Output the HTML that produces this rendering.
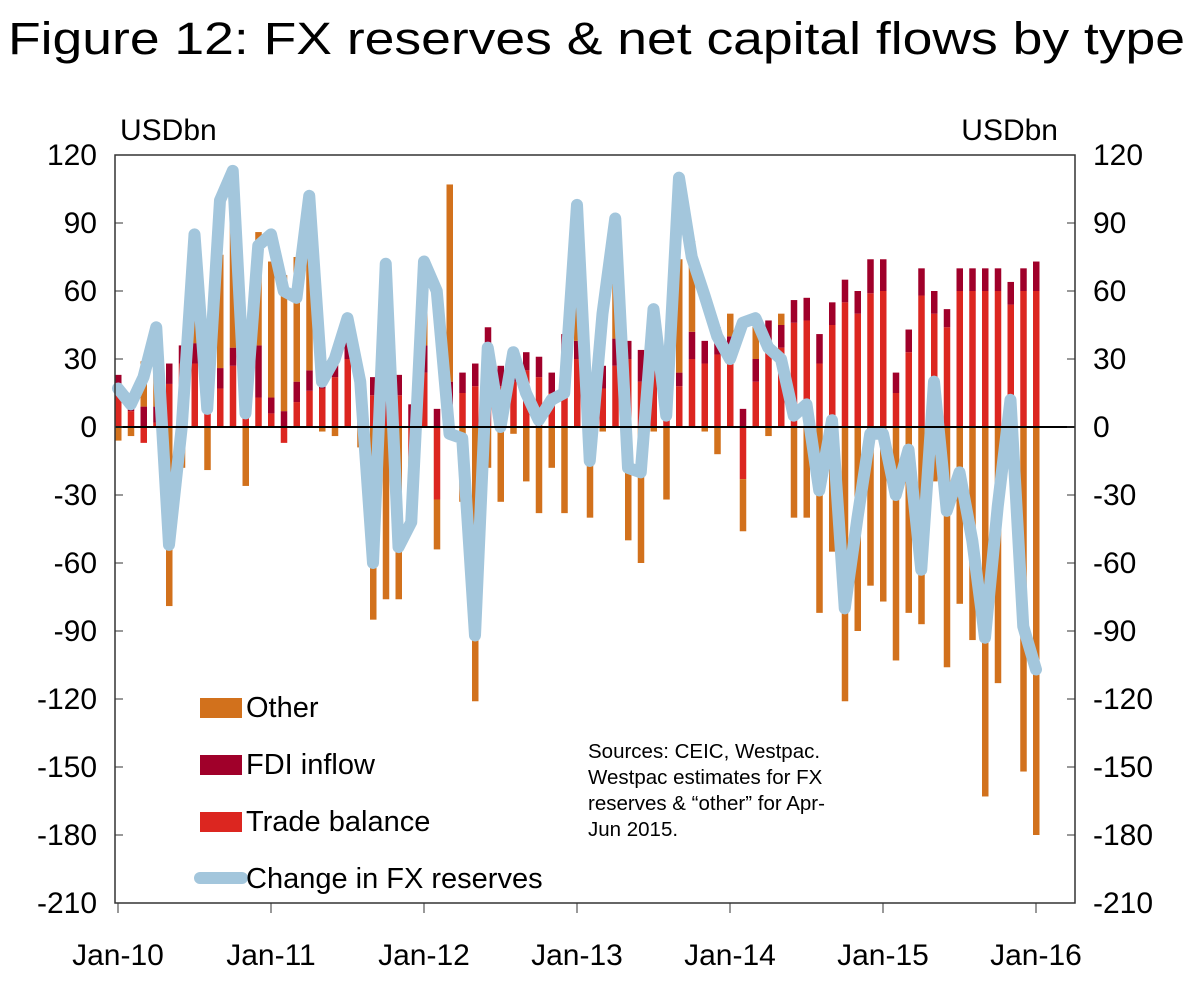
<!DOCTYPE html>
<html><head><meta charset="utf-8"><style>
body{margin:0;background:#fff;font-family:"Liberation Sans",sans-serif;}
</style></head><body>
<svg id="c" width="1197" height="979" xmlns="http://www.w3.org/2000/svg">
<text x="8" y="54" font-size="45" textLength="1177" lengthAdjust="spacingAndGlyphs" fill="#000">Figure 12: FX reserves &amp; net capital flows by type</text>
<text x="120" y="140" font-size="30">USDbn</text>
<text x="1058" y="140" font-size="30" text-anchor="end">USDbn</text>
<g id="grid"></g><g id="bars"></g><g id="line"></g><g id="axes"></g>
<g>
<rect x="200" y="698" width="42" height="20" fill="#d2711c"/>
<text x="246" y="717" font-size="29">Other</text>
<rect x="200" y="755" width="42" height="20" fill="#a0002a"/>
<text x="246" y="774" font-size="29">FDI inflow</text>
<rect x="200" y="812" width="42" height="20" fill="#dc2620"/>
<text x="246" y="831" font-size="29">Trade balance</text>
<line x1="200" y1="878" x2="242" y2="878" stroke="#a3c6dc" stroke-width="12" stroke-linecap="round"/>
<text x="246" y="888" font-size="29">Change in FX reserves</text>
</g>
<g font-size="20.5">
<text x="588" y="758">Sources: CEIC, Westpac.</text>
<text x="588" y="784">Westpac estimates for FX</text>
<text x="588" y="810">reserves &amp; “other” for Apr-</text>
<text x="588" y="836">Jun 2015.</text>
</g>
</svg>
<script>
const xLabels=["Jan-10","Jan-11","Jan-12","Jan-13","Jan-14","Jan-15","Jan-16"];
const yTicks=[120,90,60,30,0,-30,-60,-90,-120,-150,-180,-210];
const trade=[15,7,-7,2,19,28,28,13,17,27,13,13,6,-7,11,16,17,22,30,14,14,15,14,-13,24,-32,10,15,18,30,18,20,25,22,15,30,30,-2,17,27,30,20,28,15,18,30,28,32,30,-23,20,38,35,46,47,28,45,55,50,59,60,15,33,58,50,44,60,60,60,60,54,60,60];
const fdi=[8,2,9,7,9,8,9,7,9,8,8,23,7,7,9,9,5,7,9,6,8,9,9,10,12,8,10,9,10,14,9,8,8,9,9,11,8,8,10,12,8,14,10,10,6,12,10,12,10,8,10,9,10,10,10,13,10,10,10,15,14,9,10,12,10,8,10,10,10,10,10,10,13];
const other=[-6,-4,20,20,-79,-18,30,-19,50,80,-26,50,60,60,55,70,-2,-4,0,-9,-85,-76,-76,-20,30,-22,87,-33,-121,-18,-33,-3,-24,-38,-18,-38,30,-38,-2,50,-50,-60,-2,-32,50,40,-2,-12,10,-23,15,-4,5,-40,-40,-82,-55,-121,-90,-70,-77,-103,-82,-87,-24,-106,-78,-94,-163,-113,-10,-152,-180];
const reserves=[17,10,22,44,-52,0,85,8,100,113,6,80,85,60,57,102,20,30,48,20,-60,72,-53,-42,73,60,-3,-5,-92,35,0,33,15,3,12,15,98,-15,50,92,-18,-20,52,5,110,75,58,40,30,46,48,35,30,5,10,-28,3,-80,-40,-3,-3,-30,-10,-63,20,-37,-20,-50,-93,-35,12,-88,-107];

const NS="http://www.w3.org/2000/svg";
const X0=117,X1=1035,Y0=155,Y1=903,L=115,R=1075;
function y(v){return Y0+(120-v)*(Y1-Y0)/330;}
function x(i){return X0+i*(X1-X0)/72+1;}
function mk(tag,attrs,parent){const e=document.createElementNS(NS,tag);for(const k in attrs)e.setAttribute(k,attrs[k]);document.getElementById(parent).appendChild(e);return e;}
let f=mk('rect',{x:L,y:Y0,width:R-L,height:Y1-Y0,fill:'none',stroke:'#333','stroke-width':1.5},'axes');


yTicks.forEach(t=>{
 let a=mk('text',{x:L-18,y:y(t)+10,'font-size':30,'text-anchor':'end'},'axes');a.textContent=t;
 
 
 let b=mk('text',{x:R+18,y:y(t)+10,'font-size':30},'axes');b.textContent=t;
 
 
 mk('line',{x1:L,x2:L+8,y1:y(t),y2:y(t),stroke:'#333'},'axes');
 mk('line',{x1:R-8,x2:R,y1:y(t),y2:y(t),stroke:'#333'},'axes');
});
xLabels.forEach((s,k)=>{
 const xx=x(k*12);
 mk('line',{x1:xx,x2:xx,y1:Y1,y2:Y1+10,stroke:'#333'},'axes');
 let t=mk('text',{x:xx,y:Y1+62,'font-size':30,'text-anchor':'middle'},'axes');t.textContent=s;
 
 
});
let z=mk('line',{x1:L,x2:R,y1:y(0),y2:y(0),stroke:'#000','stroke-width':2},'line');


function bar(i,a,b,col,name){
 if(a===b)return;
 let r=mk('rect',{x:x(i)-3,y:Math.min(y(a),y(b)),width:6.5,height:Math.abs(y(a)-y(b)),fill:col},'bars');
 
 
}
trade.forEach((t,i)=>{
 bar(i,0,t,'#dc2620','bar-trade');
 const base=Math.max(t,0);
 bar(i,base,base+fdi[i],'#a0002a','bar-fdi');
 const top=base+fdi[i];
 if(other[i]>=0)bar(i,top,top+other[i],'#d2711c','bar-other');
 else bar(i,Math.min(t,0),Math.min(t,0)+other[i],'#d2711c','bar-other');
});
let p=mk('polyline',{points:reserves.map((v,i)=>x(i)+','+y(v)).join(' '),fill:'none',stroke:'#a3c6dc','stroke-width':12,'stroke-linejoin':'round','stroke-linecap':'round'},'line');


document.getElementById('line').insertBefore(p,z);
</script>
</body></html>
